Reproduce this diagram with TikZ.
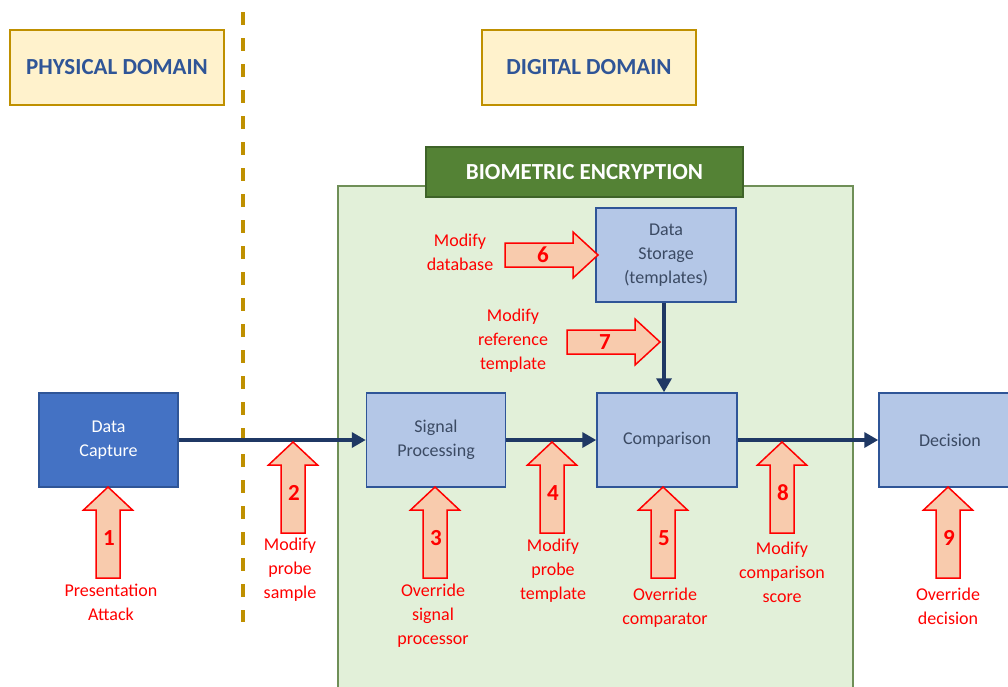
\documentclass[tikz,border=0pt]{standalone}
\usepackage{fontspec}
\setmainfont{Carlito}
\usetikzlibrary{arrows.meta}

\definecolor{domainfill}{HTML}{FFF2CC}
\definecolor{domaingold}{HTML}{BF9000}
\definecolor{domainblue}{HTML}{2F5597}
\definecolor{encfill}{HTML}{E2F0D9}
\definecolor{encline}{HTML}{6F8F57}
\definecolor{encgreen}{HTML}{548235}
\definecolor{encdark}{HTML}{3E6328}
\definecolor{capturefill}{HTML}{4472C4}
\definecolor{stagefill}{HTML}{B4C7E7}
\definecolor{stagetext}{HTML}{3B4A63}
\definecolor{flownavy}{HTML}{1F3864}
\definecolor{attackfill}{HTML}{F8CBAD}
\definecolor{attackred}{HTML}{FF0000}

\tikzset{
  domainbox/.style={draw=domaingold, fill=domainfill, line width=2.5pt,
    minimum width=214pt, minimum height=75pt, text=domainblue,
    font=\fontsize{23}{26}\selectfont\bfseries},
  stage/.style={draw=domainblue, fill=stagefill, line width=1.5pt,
    minimum width=139pt, minimum height=94pt, align=center, text=stagetext,
    font=\fontsize{18}{24}\selectfont},
  flow/.style={draw=flownavy, line width=4pt, -{Triangle[length=14pt,width=15pt]}},
  attacktxt/.style={align=center, text=attackred, font=\fontsize{18}{24}\selectfont},
  attacknum/.style={text=attackred, font=\fontsize{23}{24}\selectfont\bfseries},
  attackshape/.style={draw=attackred, fill=attackfill, line width=1.5pt},
  attackup/.pic={
    \draw[attackshape] (0,0) -- (24.5,23) -- (12,23) -- (12,91) -- (-12,91)
      -- (-12,23) -- (-24.5,23) -- cycle;
    \node[attacknum] (-num) at (1,51) {#1};
  },
  attackright/.pic={
    \draw[attackshape] (0,0) -- (-25,-23) -- (-25,-12) -- (-93,-12) -- (-93,12)
      -- (-25,12) -- (-25,23) -- cycle;
    \node[attacknum] (-num) at (-55,0) {#1};
  }
}

\begin{document}
\begin{tikzpicture}[x=1pt, y=-1pt]
  \useasboundingbox (0,0) rectangle (1008,686);
  \clip (0,0) rectangle (1008,686);

  % domains
  \node[domainbox] (physical) at (117,67.5) {PHYSICAL DOMAIN};
  \node[domainbox] (digital) at (589,67.5) {DIGITAL DOMAIN};
  \draw[domaingold, line width=3.5pt, dash pattern=on 13pt off 13pt] (243,12) -- (243,622);

  % encryption area
  \draw[encline, fill=encfill, line width=1.5pt] (338,186) rectangle (853,700);
  \node[draw=encdark, fill=encgreen, line width=1.5pt, minimum width=317pt, minimum height=50pt,
    text=white, font=\fontsize{23}{26}\selectfont\bfseries] (encryption) at (584.5,172) {BIOMETRIC ENCRYPTION};

  % stages
  \node[stage, fill=capturefill, text=white] (capture) at (108.5,440) {Data\\Capture};
  \node[stage] (signal) at (436,440) {Signal\\Processing};
  \node[stage, minimum width=140pt] (compare) at (667,440) {Comparison};
  \node[stage, minimum width=140pt] (storage) at (666,255) {Data\\Storage\\(templates)};
  \node[stage, minimum width=142pt] (decision) at (950,440) {Decision};

  \draw[flow] (capture.east) -- (signal.west);
  \draw[flow] (signal.east) -- (compare.west);
  \draw[flow] (compare.east) -- (decision.west);
  \draw[flow] ([xshift=-2pt]storage.south) -- ([xshift=-2pt]storage.south |- compare.north);

  % attack points
  \pic (a1) at (108,487) {attackup=1};
  \pic (a2) at (293,442) {attackup=2};
  \pic (a3) at (435,487) {attackup=3};
  \pic (a4) at (552,442) {attackup=4};
  \pic (a5) at (663,487) {attackup=5};
  \pic (a8) at (782,442) {attackup=8};
  \pic (a9) at (948,487) {attackup=9};
  \pic (a6) at (598,255) {attackright=6};
  \pic (a7) at (660,342) {attackright=7};

  \node[attacktxt] (t1) at (111,602) {Presentation\\Attack};
  \node[attacktxt] (t2) at (290,570) {Modify\\probe\\sample};
  \node[attacktxt] (t3) at (433,616) {Override\\signal\\processor};
  \node[attacktxt] (t4) at (553,571) {Modify\\probe\\template};
  \node[attacktxt] (t5) at (665,608) {Override\\comparator};
  \node[attacktxt] (t8) at (782,572) {Modify\\comparison\\score};
  \node[attacktxt] (t9) at (948,606) {Override\\decision};
  \node[attacktxt] (t6) at (460,252) {Modify\\database};
  \node[attacktxt] (t7) at (513,341) {Modify\\reference\\template};
\end{tikzpicture}
\end{document}
